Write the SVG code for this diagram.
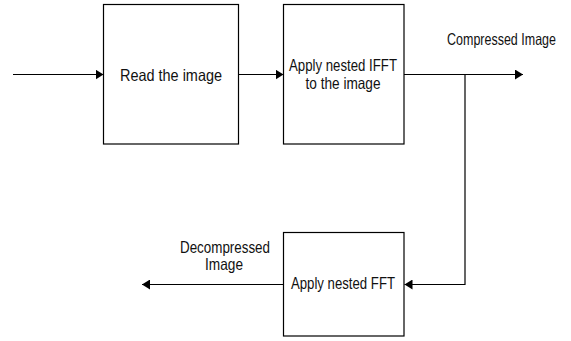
<svg xmlns="http://www.w3.org/2000/svg" width="571" height="341" viewBox="0 0 571 341">
<defs>
<marker id="ah" markerUnits="userSpaceOnUse" markerWidth="9" markerHeight="10" refX="8" refY="5" orient="auto">
<path d="M0,0 L8,5 L0,10 z" fill="#000"/>
</marker>
<style>
.box{fill:#fff;stroke:#000;stroke-width:1.2}
.t{font-family:"Liberation Sans",Arial,sans-serif;font-size:16.5px;fill:#111;text-anchor:middle}
.c{fill:none;stroke:#000;stroke-width:1.2;marker-end:url(#ah)}
</style>
</defs>
<rect width="571" height="341" fill="#fff"/>
<g id="connectors">
<line class="c" x1="13" y1="74.5" x2="103.5" y2="74.5"/>
<line class="c" x1="239" y1="74.5" x2="283.5" y2="74.5"/>
<line class="c" x1="404" y1="74.5" x2="523" y2="74.5"/>
<polyline class="c" points="465,74.5 465,284.5 404.5,284.5"/>
<line class="c" x1="284" y1="284.5" x2="142" y2="284.5"/>
</g>
<g id="read">
<rect class="box" x="103.5" y="4.5" width="135" height="139.5"/>
<text class="t" x="171" y="81" textLength="102" lengthAdjust="spacingAndGlyphs">Read the image</text>
</g>
<g id="ifft">
<rect class="box" x="283.5" y="4.5" width="120.5" height="139.5"/>
<text class="t" x="343" y="71" textLength="108" lengthAdjust="spacingAndGlyphs">Apply nested IFFT</text>
<text class="t" x="343" y="89" textLength="75" lengthAdjust="spacingAndGlyphs">to the image</text>
</g>
<g id="fft">
<rect class="box" x="283.5" y="232.5" width="120.5" height="103.5"/>
<text class="t" x="343" y="289" textLength="104" lengthAdjust="spacingAndGlyphs">Apply nested FFT</text>
</g>
<g id="labels">
<text class="t" transform="translate(501.5,45) scale(0.757,1)" x="0" y="0">Compressed Image</text>
<text class="t" x="225" y="253" textLength="90" lengthAdjust="spacingAndGlyphs">Decompressed</text>
<text class="t" x="224" y="270" textLength="38" lengthAdjust="spacingAndGlyphs">Image</text>
</g>
</svg>
